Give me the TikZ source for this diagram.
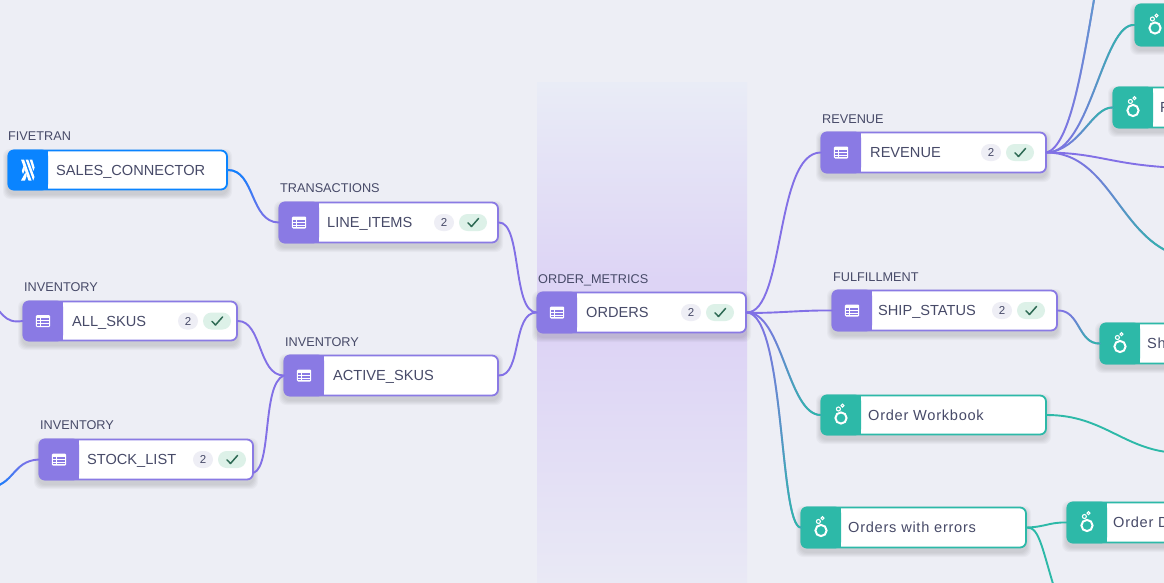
\documentclass[tikz,border=0pt]{standalone}
\usepackage{fontspec}
\setmainfont{Liberation Sans}
\newfontfamily\spaced[LetterSpace=5]{Liberation Sans}
\usetikzlibrary{fadings}
\definecolor{bgc}{HTML}{EDEEF5}
\definecolor{pur}{HTML}{8A7AE4}
\definecolor{lpur}{HTML}{8270E6}
\definecolor{tea}{HTML}{2DB9A8}
\definecolor{blu}{HTML}{0A84FF}
\definecolor{midb}{HTML}{5C9CCB}
\definecolor{ink}{HTML}{474A68}
\definecolor{lav}{HTML}{DDD4F5}
\definecolor{lavt}{HTML}{E9ECF6}
\definecolor{lavb}{HTML}{E9E9F5}
\definecolor{pillg}{HTML}{DDF1E8}
\definecolor{pilln}{HTML}{EEEEF5}
\definecolor{chk}{HTML}{2F6B55}
\tikzset{
  x=1pt,y=-1pt,
  conn/.style={line width=1.9pt,line cap=round},
  lab/.style={anchor=base west,inner sep=0pt,text=ink,font=\fontsize{12.7}{14}\selectfont},
  ttl/.style={anchor=base west,inner sep=0pt,text=ink,font=\fontsize{14.6}{16}\selectfont},
  pilltxt/.style={inner sep=0pt,text=ink,font=\fontsize{11.5}{12}\selectfont},
  cardbox/.style={rectangle,rounded corners=6pt,fill=white,draw=#1,line width=1.8pt,inner sep=0pt},
}
\newcommand\gradline[4]{\draw[conn,#1] #4; \draw[conn,#2,path fading=#3] #4;}
% id x1 y1 x2 y2 colour iconmacro text textx
\newcommand\flownode[9]{%
  \pgfmathsetmacro\cx{(#2+.5+#4)/2}\pgfmathsetmacro\cy{(#3+#5)/2}%
  \pgfmathsetmacro\boxw{#4-#2-.5}\pgfmathsetmacro\boxh{#5-#3-1}%
  \foreach \e in {5,4,3,2,1}{\fill[black,opacity=.028,rounded corners=7pt] (#2-\e,#3-\e+4) rectangle (#4+\e,#5+\e+4);}%
  \node[cardbox=#6,minimum width=\boxw pt,minimum height=\boxh pt] (#1) at (\cx,\cy) {};
  \fill[#6,rounded corners=6pt] (#2-.4,#3-.4) -- (#2+40,#3-.4) -- (#2+40,#5+.4) -- (#2-.4,#5+.4) -- cycle;
  \fill[#6] (#2+30,#3-.4) rectangle (#2+40,#5+.4);
  \begin{scope}[shift={(#2+20,\cy)}]#7\end{scope}
  \node[ttl] (#1-t) at (#9,\cy+5.3) {#8};
}
% id right-edge offset
\newcommand\badges[3]{%
  \pgfmathsetmacro\pr{#2-#3}%
  \fill[pillg,rounded corners=8.5pt] (\pr-28,\cyy-8.5) rectangle (\pr,\cyy+8.5);
  \fill[pilln,rounded corners=8.5pt] (\pr-53,\cyy-8.5) rectangle (\pr-33,\cyy+8.5);
  \node[pilltxt] (#1-n) at (\pr-43,\cyy) {2};
  \draw[chk,line width=1.5pt,line cap=round,line join=round] (\pr-19,\cyy+.3) -- (\pr-15.5,\cyy+4) -- (\pr-8.5,\cyy-4);
}
\newcommand\tableicon{%
  \fill[white,rounded corners=1.2pt] (-7.2,-6) rectangle (7.2,6);
  \fill[pur] (-6,-2.6) rectangle (-3.2,-.7);\fill[pur] (-2.2,-2.6) rectangle (6,-.7);
  \fill[pur] (-6,.3) rectangle (-3.2,2);\fill[pur] (-2.2,.3) rectangle (6,2);
  \fill[pur] (-6,3) rectangle (-3.2,4.8);\fill[pur] (-2.2,3) rectangle (6,4.8);
}
\newcommand\loopicon{%
  \draw[white,line width=2pt] (0,3) circle (5.6);
  \draw[white,line width=1.1pt] (-2.6,-6) circle (2);
  \draw[white,line width=1pt] (1.5,-9.4) circle (1.5);
}
\newcommand\fiveicon{%
  \fill[white] (-7,-10.5) -- (-4,-10.5) -- (3.5,10.5) -- (.5,10.5) -- cycle;
  \fill[white] (-2.4,-10.5) -- (.2,-10.5) -- (6.5,7) -- (5.2,10.5) -- cycle;
  \fill[white] (1.6,-10.5) -- (4.2,-10.5) -- (6.6,-2.5) -- (5.4,1) -- cycle;
  \fill[white] (-4.5,-4) -- (-3.2,0) -- (-5,4) -- (-6.2,1) -- cycle;
  \fill[white] (-2.6,2.5) -- (-1.4,6) -- (-3,10.5) -- (-7,10.5) -- cycle;
}
\begin{document}
\begin{tikzpicture}
\clip (0,0) rectangle (1164,583);
\useasboundingbox (0,0) rectangle (1164,583);
\fill[bgc] (0,0) rectangle (1164,583);
% band
\shade[top color=lavt,bottom color=lav] (537,83) rectangle (747,280);
\fill[lav] (537,279.5) rectangle (747,340);
\shade[top color=lav,bottom color=lavb] (537,339.5) rectangle (747,583);
% cards
\flownode{sales}{8}{150}{227}{190}{blu}{\fiveicon}{SALES\_CONNECTOR}{56}
\flownode{line}{279}{202}{498}{243}{pur}{\tableicon}{LINE\_ITEMS}{327}
\def\cyy{222.5}\badges{line}{498}{11}
\flownode{all}{23}{301}{237}{341}{pur}{\tableicon}{ALL\_SKUS}{72}
\def\cyy{321}\badges{all}{238}{7}
\flownode{active}{284}{355}{498}{396}{pur}{\tableicon}{ACTIVE\_SKUS}{333}
\flownode{stock}{39}{439}{253}{480}{pur}{\tableicon}{STOCK\_LIST}{87}
\def\cyy{459.5}\badges{stock}{253}{7}
\flownode{orders}{537}{292}{746}{333}{pur}{\tableicon}{ORDERS}{586}
\def\cyy{312.5}\badges{orders}{746}{12}
\flownode{revenue}{821}{132}{1046}{173}{pur}{\tableicon}{REVENUE}{870}
\def\cyy{152.5}\badges{revenue}{1046}{12}
\flownode{ship}{832}{290}{1057}{331}{pur}{\tableicon}{SHIP\_STATUS}{878}
\def\cyy{310.5}\badges{ship}{1057}{12}
\flownode{workbook}{821}{395}{1046}{435}{tea}{\loopicon}{\spaced Order Workbook}{868}
\flownode{errors}{801}{507}{1026}{548}{tea}{\loopicon}{\spaced Orders with errors}{848}
\flownode{orderd}{1067}{502}{1250}{543}{tea}{\loopicon}{\spaced Order D}{1113}
\flownode{sh}{1100}{323}{1250}{364}{tea}{\loopicon}{\spaced Sh}{1147}
\flownode{ef}{1113}{87}{1250}{128}{tea}{\loopicon}{\spaced F}{1160}
\flownode{topn}{1135}{4}{1250}{46}{tea}{\loopicon}{}{1180}
% labels
\node[lab] (l1) at (8,140.5) {FIVETRAN};
\node[lab] (l2) at (280,192.5) {TRANSACTIONS};
\node[lab] (l3) at (24,291.5) {INVENTORY};
\node[lab] (l4) at (285,346.5) {INVENTORY};
\node[lab] (l5) at (40,429.5) {INVENTORY};
\node[lab] (l6) at (538,283.5) {ORDER\_METRICS};
\node[lab] (l7) at (822,123.5) {REVENUE};
\node[lab] (l8) at (833,281.5) {FULFILLMENT};
% free ends
\coordinate (offa) at (-14,296);
\coordinate (offb) at (-12,488);
\coordinate (offc) at (1096,-12);
\coordinate (offd) at (1180,168);
\coordinate (offe) at (1180,256);
\coordinate (offf) at (1180,453);
\coordinate (offg) at (1058,600);
% connectors
\gradline{lpur}{blu}{south}{(sales.east) .. controls (255,170) and (250,222) .. (line.west)}
\draw[conn,lpur] (all.east) .. controls (262,321) and (258,375) .. (active.west);
\draw[conn,lpur] (stock.-7) .. controls (272,465) and (262,385) .. (active.west);
\draw[conn,lpur] (offa) .. controls (2,312) and (4,324) .. (all.west);
\gradline{lpur}{blu}{north}{(offb) .. controls (15,485) and (12,461) .. (stock.west)}
\draw[conn,lpur] (line.east) .. controls (522,222) and (512,312) .. (orders.west);
\draw[conn,lpur] (active.east) .. controls (522,376) and (512,312) .. (orders.west);
\draw[conn,lpur] (orders.east) .. controls (785,312) and (775,153) .. (revenue.west);
\draw[conn,lpur] (orders.east) .. controls (770,314) and (800,310) .. (ship.west);
\gradline{lpur}{tea}{north}{(orders.east) .. controls (782,312) and (788,415) .. (workbook.west)}
\gradline{lpur}{tea}{north}{(orders.east) .. controls (785,315) and (779,525) .. (errors.west)}
\gradline{lpur}{tea}{north}{(ship.east) .. controls (1080,310) and (1078,344) .. (sh.west)}
\draw[conn,tea] (workbook.east) .. controls (1105,415) and (1125,452) .. (offf);
\draw[conn,tea] (errors.east) .. controls (1045,527) and (1050,522) .. (orderd.west);
\draw[conn,tea] (errors.east) .. controls (1040,527) and (1042,550) .. (offg);
\gradline{lpur}{midb}{south}{(revenue.east) .. controls (1070,145) and (1082,70) .. (offc)}
\gradline{lpur}{tea}{south}{(revenue.east) .. controls (1090,153) and (1103,22) .. (topn.west)}
\gradline{lpur}{tea}{south}{(revenue.east) .. controls (1080,150) and (1092,107) .. (ef.west)}
\draw[conn,lpur] (revenue.east) .. controls (1100,153) and (1110,165) .. (offd);
\gradline{lpur}{tea}{north}{(revenue.east) .. controls (1110,153) and (1120,240) .. (offe)}
\end{tikzpicture}
\end{document}
